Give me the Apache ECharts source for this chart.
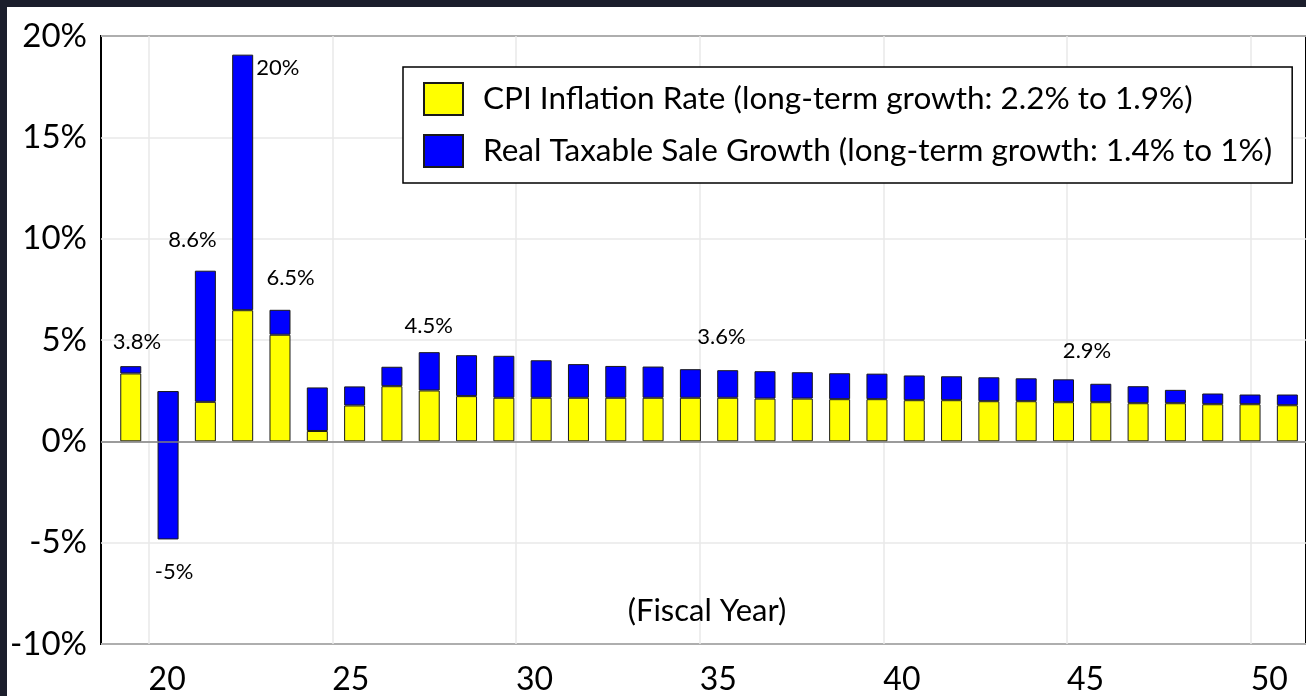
<!DOCTYPE html>
<html>
<head>
<meta charset="utf-8">
<script src="https://cdn.jsdelivr.net/npm/echarts@6/dist/echarts.min.js"></script>
<style>
  html, body { margin: 0; padding: 0; background: #1b1e2c; width: 1306px; height: 696px; overflow: hidden; }
  #chart { position: absolute; left: 7px; top: 7px; width: 1299px; height: 689px; background: #ffffff; }
</style>
</head>
<body>
<div id="chart"></div>
<script>
// Fiscal years (categories)
const years = ['19', '20', '21', '22', '23', '24', '25', '26', '27', '28', '29', '30', '31', '32', '33', '34',
               '35', '36', '37', '38', '39', '40', '41', '42', '43', '44', '45', '46', '47', '48', '49', '50'];
// CPI inflation rate (%)
const cpiInflation = [3.35, 2.48, 1.95, 6.47, 5.26, 0.51, 1.77, 2.72, 2.51, 2.23, 2.15, 2.15, 2.15, 2.15, 2.15, 2.15,
                      2.15, 2.11, 2.11, 2.08, 2.08, 2.03, 2.03, 1.98, 1.98, 1.93, 1.93, 1.88, 1.88, 1.83, 1.83, 1.78];
// Real taxable sale growth (%)
const realGrowth = [0.36, -7.32, 6.47, 12.61, 1.23, 2.15, 0.94, 0.96, 1.89, 2.02, 2.07, 1.85, 1.66, 1.57, 1.54, 1.41,
                    1.36, 1.35, 1.30, 1.28, 1.26, 1.22, 1.18, 1.18, 1.13, 1.13, 0.91, 0.84, 0.66, 0.53, 0.48, 0.53];
// Axis ticks
const yTicks = [-10, -5, 0, 5, 10, 15, 20];
const xLabelTicks = [20, 25, 30, 35, 40, 45, 50];
const xGridTicks = [19.5, 24.5, 29.5, 34.5, 39.5, 44.5, 49.5];
// Annotation texts and their anchor points (data units)
const annoText = ['3.8%', '-5%', '8.6%', '20%', '6.5%', '4.5%', '3.6%', '2.9%'];
const annoX = [19.18, 20.19, 20.69, 23.01, 23.36, 27.12, 35.09, 45.04];
const annoY = [4.91, -6.46, 9.94, 18.43, 8.07, 5.70, 5.16, 4.46];

const seriesNames = [
  'CPI Inflation Rate (long-term growth: 2.2% to 1.9%)',
  'Real Taxable Sale Growth (long-term growth: 1.4% to 1%)'
];

const FONT = 'Lato';
const chart = echarts.init(document.getElementById('chart'), null, { renderer: 'canvas' });

const option = {
  animation: false,
  backgroundColor: '#ffffff',
  textStyle: { fontFamily: FONT, color: '#000' },
  grid: [
    { // frame grid: value axes, gridlines, labels, border
      left: 94, top: 29, width: 1227, height: 608,
      show: true, borderColor: '#000', borderWidth: 2, backgroundColor: '#fff'
    },
    { // bar grid: category axis aligned with the frame
      left: 105.1, top: 29, width: 1196.8, height: 608, show: false
    }
  ],
  legend: {
    orient: 'vertical',
    left: 396, top: 60,
    data: seriesNames,
    icon: 'rect',
    itemWidth: 39, itemHeight: 32, itemGap: 18,
    padding: [15, 20, 15, 20],
    borderColor: '#000', borderWidth: 1.5, borderRadius: 0,
    backgroundColor: '#fff',
    textStyle: { fontFamily: FONT, fontSize: 31.5, lineHeight: 32, color: '#000', padding: [0, 0, 0, 15] },
    selectedMode: false
  },
  xAxis: [
    {
      gridIndex: 0,
      type: 'value',
      min: 18.2, max: 51,
      axisLine: { show: false },
      axisTick: { show: false, customValues: xGridTicks },
      axisLabel: { customValues: xLabelTicks, fontFamily: FONT, fontSize: 32, color: '#000', margin: 20 },
      splitLine: { show: true, lineStyle: { color: '#e8e8e8', width: 1.5 } }
    },
    {
      gridIndex: 1,
      type: 'category',
      data: years,
      boundaryGap: true,
      show: false
    }
  ],
  yAxis: [
    {
      gridIndex: 0,
      type: 'value',
      min: yTicks[0], max: yTicks[yTicks.length - 1], interval: 5,
      axisLine: { show: false },
      axisTick: { show: false },
      axisLabel: { formatter: '{value}%', fontFamily: FONT, fontSize: 33, color: '#000', margin: 14 },
      splitLine: { show: true, lineStyle: { color: '#e8e8e8', width: 1.5 } }
    },
    {
      gridIndex: 1,
      type: 'value',
      min: yTicks[0], max: yTicks[yTicks.length - 1], interval: 5,
      show: false,
      splitLine: { show: false }
    }
  ],
  graphic: [{
    type: 'text',
    x: 707 - 7, y: 611 - 7,
    style: { text: '(Fiscal Year)', fontFamily: FONT, fontSize: 31, fill: '#000', textAlign: 'center', textVerticalAlign: 'middle' },
    z: 10
  }],
  series: [
    {
      name: seriesNames[0],
      type: 'bar',
      xAxisIndex: 1, yAxisIndex: 1,
      stack: 'total',
      stackStrategy: 'all',
      barWidth: 21,
      itemStyle: { color: '#ffff00', borderColor: '#1a1a1a', borderWidth: 1 },
      data: cpiInflation,
      z: 3
    },
    {
      name: seriesNames[1],
      type: 'bar',
      xAxisIndex: 1, yAxisIndex: 1,
      stack: 'total',
      stackStrategy: 'all',
      barWidth: 21,
      itemStyle: { color: '#0000ff', borderColor: '#1a1a1a', borderWidth: 1 },
      data: realGrowth,
      z: 3
    },
    {
      name: 'annotations',
      type: 'scatter',
      xAxisIndex: 0, yAxisIndex: 0,
      symbolSize: 0,
      silent: true,
      itemStyle: { opacity: 1 },
      data: annoText.map((t, i) => ({ value: [annoX[i], annoY[i]], name: t })),
      label: {
        show: true, position: 'inside',
        formatter: p => p.name,
        fontFamily: FONT, fontSize: 22, color: '#000', opacity: 1
      },
      markLine: {
        silent: true, symbol: 'none', animation: false,
        label: { show: false },
        lineStyle: { color: '#7f7f7f', width: 1.5, type: 'solid' },
        data: [{ yAxis: 0 }]
      },
      z: 5
    }
  ]
};
chart.setOption(option);
</script>
</body>
</html>
